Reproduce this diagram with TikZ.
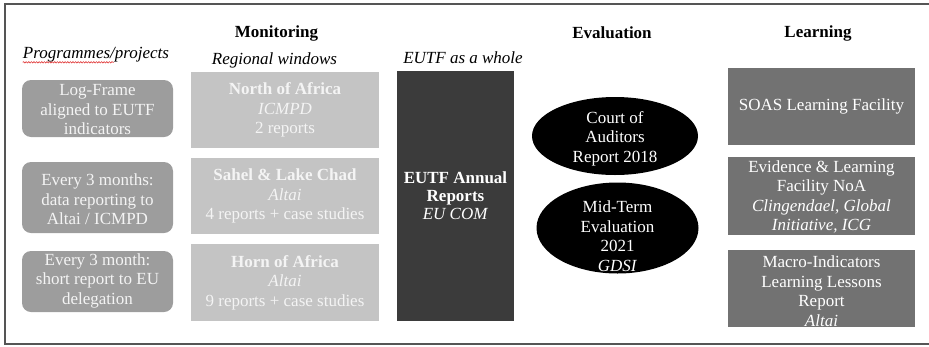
\documentclass[tikz,border=0pt]{standalone}
\usepackage{fontspec}
\setmainfont{Liberation Serif}
\usetikzlibrary{shapes.geometric,decorations.pathmorphing}

\definecolor{frameclr}{HTML}{555555}
\definecolor{progfill}{HTML}{9D9D9D}
\definecolor{monfill}{HTML}{C4C4C4}
\definecolor{eutffill}{HTML}{3B3B3B}
\definecolor{learnfill}{HTML}{727272}
\definecolor{softwhite}{HTML}{F4F4F4}
\definecolor{squiggle}{HTML}{E03A3A}

\tikzset{
  basefont/.style={font=\fontsize{17}{19.5}\selectfont},
  heading/.style={basefont, font=\fontsize{17}{19.5}\selectfont\bfseries, inner sep=0pt, text=black},
  subheading/.style={basefont, font=\fontsize{17}{19.5}\selectfont\itshape, inner sep=0pt, text=black},
  progbox/.style={rectangle, rounded corners=9pt, fill=progfill, draw=none, minimum width=151pt, inner sep=0pt},
  monbox/.style={rectangle, fill=monfill, draw=none, minimum width=188pt, inner sep=0pt},
  eutfbox/.style={rectangle, fill=eutffill, draw=none, minimum width=117pt, minimum height=250pt, inner sep=0pt},
  evalshape/.style={ellipse, fill=black, draw=none, inner sep=0pt},
  learnbox/.style={rectangle, fill=learnfill, draw=none, minimum width=187pt, inner sep=0pt},
  boxtext/.style={basefont, align=center, inner sep=0pt, text=softwhite},
  whitetext/.style={basefont, align=center, inner sep=0pt, text=white},
  tighttext/.style={align=center, inner sep=0pt, text=white, font=\fontsize{17}{18}\selectfont},
}

\begin{document}
\begin{tikzpicture}[x=1pt,y=-1pt]
\useasboundingbox (0,0) rectangle (929,346);

% outer frame (right side runs past the page edge)
\draw[frameclr, line width=1.5pt] (5,4) rectangle (940,344);

% column headings
\node[heading] (hmon) at (276.5,33) {Monitoring};
\node[heading] (heval) at (612,33) {Evaluation};
\node[heading] (hlearn) at (818,33) {Learning};
\node[subheading] (hprog) at (96,55) {Programmes/projects};
\node[subheading] (hreg) at (274.5,60) {Regional windows};
\node[subheading] (hwhole) at (463,58) {EUTF as a whole};
\draw[squiggle, line width=0.6pt, decorate,
      decoration={snake, amplitude=0.7pt, segment length=2.6pt}]
  ([yshift=-3.5pt]hprog.base west) -- ++(91,0);

% programmes / projects
\node[progbox, minimum height=57pt] (p1) at (97.5,108.5) {};
\node[boxtext] (p1t) at (97.5,110) {Log-Frame\\aligned to EUTF\\indicators};
\node[progbox, minimum height=71pt] (p2) at (97.5,197.5) {};
\node[boxtext] (p2t) at (97.5,199.5) {Every 3 months:\\data reporting to\\Altai / ICMPD};
\node[progbox, minimum height=61pt] (p3) at (97.5,281.5) {};
\node[boxtext] (p3t) at (97.5,280.5) {Every 3 month:\\short report to EU\\delegation};

% regional windows
\node[monbox, minimum height=76pt] (m1) at (285,110) {};
\node[boxtext] (m1t) at (m1) {\textbf{North of Africa}\\\textit{ICMPD}\\2 reports};
\node[monbox, minimum height=76pt] (m2) at (285,196) {};
\node[boxtext] (m2t) at (m2) {\textbf{Sahel \& Lake Chad}\\\textit{Altai}\\4 reports + case studies};
\node[monbox, minimum height=77pt] (m3) at (285,282.5) {};
\node[boxtext] (m3t) at (m3) {\textbf{Horn of Africa}\\\textit{Altai}\\9 reports + case studies};

% EUTF as a whole
\node[eutfbox] (eutf) at (455.5,196) {};
\node[tighttext] (eutft) at (455.5,196) {\textbf{EUTF Annual}\\\textbf{Reports}\\\textit{EU COM}};

% evaluations
\node[evalshape, minimum width=166pt, minimum height=78pt] (e1) at (615,136) {};
\node[whitetext] (e1t) at (615,138.5) {Court of\\Auditors\\Report 2018};
\node[evalshape, minimum width=162pt, minimum height=91pt] (e2) at (617.5,228) {};
\node[whitetext] (e2t) at (617.5,236) {Mid-Term\\Evaluation\\2021\\\textit{GDSI}};

% learning
\node[learnbox, minimum height=77pt] (l1) at (821.5,106.5) {};
\node[whitetext] (l1t) at (l1) {SOAS Learning Facility};
\node[learnbox, minimum height=78pt] (l2) at (821.5,196) {};
\node[whitetext] (l2t) at (821.5,197) {Evidence \& Learning\\Facility NoA\\\textit{Clingendael, Global}\\\textit{Initiative, ICG}};
\node[learnbox, minimum height=77pt] (l3) at (821.5,288.5) {};
\node[whitetext] (l3t) at (821.5,291) {Macro-Indicators\\Learning Lessons\\Report\\\textit{Altai}};
\end{tikzpicture}
\end{document}
